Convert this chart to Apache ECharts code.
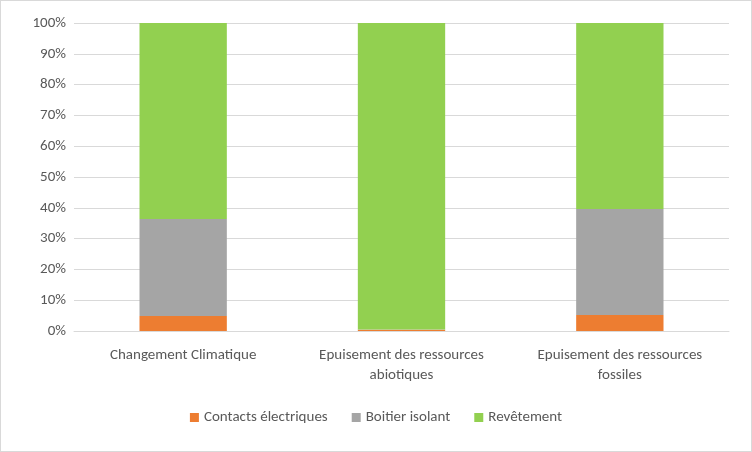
<!DOCTYPE html>
<html><head><meta charset="utf-8">
<script src="https://cdn.jsdelivr.net/npm/echarts@6/dist/echarts.min.js"></script>
<style>html,body{margin:0;padding:0;background:#fff}#c{width:750px;height:450px;border:1px solid #d9d9d9}</style>
</head><body><div id="c"></div>
<script>
var categories = ['Changement Climatique', 'Epuisement des ressources\nabiotiques', 'Epuisement des ressources\nfossiles'];
var contacts = [4.9, 0.4, 5.2];
var boitier = [31.5, 0.1, 34.4];
var revetement = [63.6, 99.5, 60.4];

var chart = echarts.init(document.getElementById('c'));
var lbl = { fontFamily: 'Calibri, Carlito, "Liberation Sans", sans-serif', fontSize: 15, color: '#595959' };
function s(name, data, color) {
    return { name: name, type: 'bar', stack: 'a', data: data, barWidth: '40%', itemStyle: { color: color } };
}
chart.setOption({
    animation: false,
    grid: { left: 73, right: 22, top: 22, bottom: 120 },
    legend: {
        bottom: 21, itemWidth: 9, itemHeight: 9, itemGap: 24, icon: 'rect',
        textStyle: lbl,
        data: ['Contacts électriques', 'Boitier isolant', 'Revêtement']
    },
    xAxis: {
        type: 'category', data: categories,
        axisLine: { lineStyle: { color: '#d9d9d9' } },
        axisTick: { show: false },
        axisLabel: Object.assign({ margin: 14, lineHeight: 20 }, lbl)
    },
    yAxis: {
        type: 'value', min: 0, max: 100, interval: 10,
        axisLabel: Object.assign({ formatter: '{value}%' }, lbl),
        splitLine: { lineStyle: { color: '#d9d9d9' } },
        axisLine: { show: false }, axisTick: { show: false }
    },
    series: [
        s('Contacts électriques', contacts, '#ed7d31'),
        s('Boitier isolant', boitier, '#a5a5a5'),
        s('Revêtement', revetement, '#92d050')
    ]
});
</script></body></html>
